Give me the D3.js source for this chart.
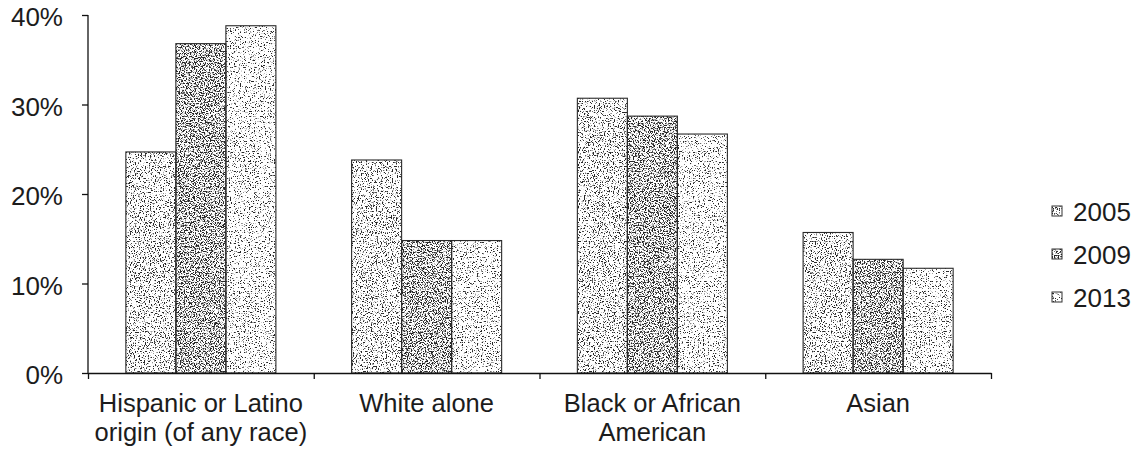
<!DOCTYPE html>
<html>
<head>
<meta charset="utf-8">
<script src="https://cdn.jsdelivr.net/npm/d3@7"></script>
<style>
	body { margin: 0; background: #fff; }
	svg { display: block; font-family: "Liberation Sans", Arial, sans-serif; }
	.axis path, .axis line { stroke: #111; stroke-width: 1.3; }
	.axis text { font-size: 26px; fill: #1c1c1c; }
</style>
</head>
<body>
<svg id="chart" width="1134" height="451"></svg>
<script>
var categories = ["Hispanic or Latino origin (of any race)", "White alone", "Black or African American", "Asian"];
var categoryLines = [["Hispanic or Latino", "origin (of any race)"], ["White alone"], ["Black or African", "American"], ["Asian"]];
var years = ["2005", "2009", "2013"];
var values2005 = [24.7, 23.8, 30.7, 15.7];
var values2009 = [36.8, 14.8, 28.7, 12.7];
var values2013 = [38.8, 14.8, 26.7, 11.7];
var yTicks = [0, 10, 20, 30, 40];

var series = [values2005, values2009, values2013];

// stipple look per series: alpha = k * noise + b
var stipple = {
	"2005": { k: 9, b: -5.0, seed: 3 },
	"2009": { k: 8, b: -3.85, seed: 7 },
	"2013": { k: 9, b: -5.3, seed: 11 }
};

var svg = d3.select("#chart");
var plotLeft = 88, plotRight = 991, plotTop = 15, plotBottom = 373;

var x0 = d3.scaleBand().domain(categories).range([plotLeft, plotRight]);
var x1 = d3.scaleBand().domain(years).range([0, x0.bandwidth()]).paddingOuter(0.757);
var y = d3.scaleLinear().domain([0, 40]).range([plotBottom, plotTop]);
var xEdges = d3.scaleLinear().domain([0, categories.length]).range([plotLeft, plotRight]);

var defs = svg.append("defs");
years.forEach(function(yr) {
	var s = stipple[yr];
	var f = defs.append("filter")
		.attr("id", "stip" + yr)
		.attr("x", 0).attr("y", 0).attr("width", 1).attr("height", 1)
		.attr("color-interpolation-filters", "sRGB");
	f.append("feTurbulence")
		.attr("type", "fractalNoise")
		.attr("baseFrequency", 0.8)
		.attr("numOctaves", 3)
		.attr("seed", s.seed)
		.attr("result", "noise");
	f.append("feColorMatrix")
		.attr("in", "noise")
		.attr("type", "matrix")
		.attr("values", "0 0 0 0 0.15  0 0 0 0 0.15  0 0 0 0 0.15  " + s.k + " 0 0 0 " + s.b)
		.attr("result", "dots");
	f.append("feComposite")
		.attr("in", "dots")
		.attr("in2", "SourceGraphic")
		.attr("operator", "in");
});

// bars
var rows = categories.map(function(c, i) {
	return years.map(function(yr, j) { return { cat: c, year: yr, value: series[j][i] }; });
});

var groups = svg.append("g").selectAll("g")
	.data(rows)
	.join("g")
		.attr("transform", function(d) { return "translate(" + x0(d[0].cat) + ",0)"; });

groups.selectAll("rect.fill")
	.data(function(d) { return d; })
	.join("rect")
		.attr("class", "fill")
		.attr("x", function(d) { return x1(d.year); })
		.attr("y", function(d) { return y(d.value); })
		.attr("width", x1.bandwidth())
		.attr("height", function(d) { return y(0) - y(d.value); })
		.attr("fill", "#fff")
		.attr("filter", function(d) { return "url(#stip" + d.year + ")"; });

groups.selectAll("rect.edge")
	.data(function(d) { return d; })
	.join("rect")
		.attr("class", "edge")
		.attr("x", function(d) { return x1(d.year); })
		.attr("y", function(d) { return y(d.value); })
		.attr("width", x1.bandwidth())
		.attr("height", function(d) { return y(0) - y(d.value); })
		.attr("fill", "none")
		.attr("stroke", "#2a2a2a")
		.attr("stroke-width", 1.1);

// axes
svg.append("g")
	.attr("class", "axis")
	.attr("transform", "translate(" + plotLeft + ",0)")
	.call(d3.axisLeft(y).tickValues(yTicks).tickFormat(function(d) { return d + "%"; })
		.tickSize(6).tickSizeOuter(0).tickPadding(19))
	.call(function(g) {
		g.select(".domain").remove();
		g.append("line").attr("y1", plotTop).attr("y2", plotBottom).attr("stroke", "#111").attr("stroke-width", 1.3);
		g.selectAll("text").attr("dy", "0.42em").attr("font-family", null).attr("font-size", null);
	});

svg.append("g")
	.attr("class", "axis")
	.attr("transform", "translate(0," + plotBottom + ")")
	.call(d3.axisBottom(xEdges).tickValues(d3.range(categories.length + 1)).tickFormat("").tickSize(6).tickSizeOuter(0));

// category labels
var labels = svg.append("g").selectAll("text")
	.data(categories)
	.join("text")
		.attr("x", function(d) { return x0(d) + x0.bandwidth() / 2; })
		.attr("y", 412)
		.attr("text-anchor", "middle")
		.attr("font-size", 25.5)
		.attr("fill", "#1c1c1c");

labels.selectAll("tspan")
	.data(function(d, i) { return categoryLines[i]; })
	.join("tspan")
		.attr("x", function() { return d3.select(this.parentNode).attr("x"); })
		.attr("dy", function(d, i) { return i ? 28.5 : 0; })
		.text(function(d) { return d; });

// legend
var legend = svg.append("g").selectAll("g")
	.data(years)
	.join("g")
		.attr("transform", function(d, i) { return "translate(1052," + (206 + i * 43) + ")"; });

legend.append("rect")
	.attr("width", 10).attr("height", 10)
	.attr("fill", "#fff")
	.attr("filter", function(d) { return "url(#stip" + d + ")"; });
legend.append("rect")
	.attr("width", 10).attr("height", 10)
	.attr("fill", "none")
	.attr("stroke", "#333")
	.attr("stroke-width", 1);
legend.append("text")
	.attr("x", 21)
	.attr("y", 15)
	.attr("font-size", 26)
	.attr("fill", "#1c1c1c")
	.text(function(d) { return d; });
</script>
</body>
</html>
